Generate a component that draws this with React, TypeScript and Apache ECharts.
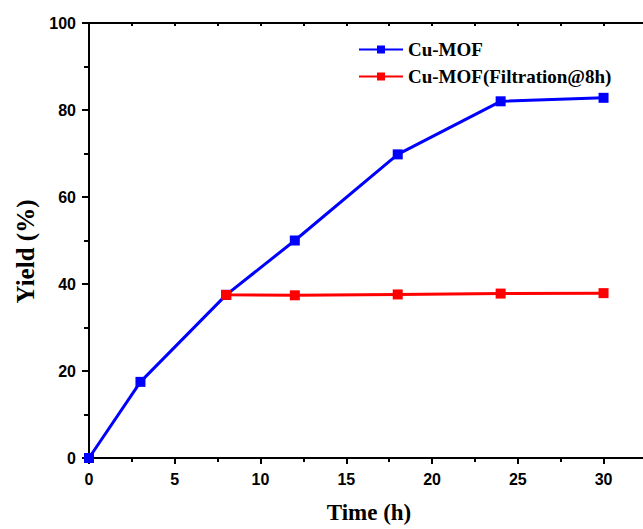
import React, { useEffect, useRef } from "react";
import * as echarts from "echarts";

const timeCu = [0, 3, 8, 12, 18, 24, 30];
const yieldCu = [0, 17.5, 37.5, 50, 69.8, 82, 82.8];
const timeFilt = [8, 12, 18, 24, 30];
const yieldFilt = [37.5, 37.4, 37.6, 37.8, 37.9];
const seriesNames = ["Cu-MOF", "Cu-MOF(Filtration@8h)"];

export default function App() {
  const ref = useRef<HTMLDivElement>(null);
  useEffect(() => {
    document.body.style.margin = "0";
    const chart = echarts.init(ref.current!, null, { renderer: "svg" });
    const serif = "'Liberation Serif', 'Times New Roman', serif";
    const sans = "'Liberation Sans', Arial, sans-serif";
    const axisLine = { show: true, lineStyle: { color: "#000", width: 2 } };
    chart.setOption({
      animation: false,
      backgroundColor: "#fff",
      grid: { left: 89, top: 23, height: 435, width: 566, outerBoundsMode: "none", containLabel: false },
      legend: {
        orient: "vertical",
        left: 353,
        top: 35,
        itemWidth: 44,
        itemHeight: 10,
        itemGap: 8,
        textStyle: { fontFamily: serif, fontWeight: "bold", fontSize: 19, color: "#000" },
        data: seriesNames,
      },
      xAxis: [
        {
          type: "value",
          min: 0,
          max: 33,
          interval: 5,
          axisLine,
          axisTick: { show: true, length: 6, inside: false, lineStyle: { width: 2, color: "#000" } },
          minorTick: { show: true, splitNumber: 2, length: 4, lineStyle: { width: 2, color: "#000" } },
          splitLine: { show: false },
          axisLabel: {
            fontFamily: sans,
            fontWeight: "bold",
            fontSize: 16,
            color: "#000",
            margin: 13,
            formatter: (v: number) => (v % 5 === 0 && v <= 30 ? String(v) : ""),
          },
          name: "Time (h)",
          nameLocation: "middle",
          nameGap: 43,
          nameTextStyle: { fontFamily: serif, fontWeight: "bold", fontSize: 23, color: "#000", padding: [0, 6, 0, 0] },
        },
        {
          type: "value",
          position: "top",
          min: 0,
          max: 33,
          interval: 2.5,
          axisLine,
          axisTick: { show: true, inside: true, length: 3, lineStyle: { width: 2, color: "#000" } },
          splitLine: { show: false },
          axisLabel: { show: false },
        },
      ],
      yAxis: [
        {
          type: "value",
          min: 0,
          max: 100,
          interval: 20,
          axisLine,
          axisTick: { show: true, length: 7, lineStyle: { width: 2, color: "#000" } },
          minorTick: { show: true, splitNumber: 2, length: 5, lineStyle: { width: 2, color: "#000" } },
          splitLine: { show: false },
          axisLabel: { fontFamily: sans, fontWeight: "bold", fontSize: 16, color: "#000", margin: 13 },
          name: "Yield (%)",
          nameLocation: "middle",
          nameGap: 47,
          nameTextStyle: { fontFamily: serif, fontWeight: "bold", fontSize: 25, color: "#000", padding: [0, 22, 0, 0] },
        },
      ],
      series: [
        {
          name: seriesNames[0],
          type: "line",
          data: timeCu.map((t, i) => [t, yieldCu[i]]),
          symbol: "rect",
          symbolSize: 10,
          color: "#0000ff",
          lineStyle: { width: 3, color: "#0000ff" },
          itemStyle: { color: "#0000ff" },
          z: 2,
        },
        {
          name: seriesNames[1],
          type: "line",
          data: timeFilt.map((t, i) => [t, yieldFilt[i]]),
          symbol: "rect",
          symbolSize: 10,
          color: "#ff0000",
          lineStyle: { width: 3, color: "#ff0000" },
          itemStyle: { color: "#ff0000" },
          z: 3,
        },
      ],
    });
    return () => chart.dispose();
  }, []);
  return <div ref={ref} style={{ width: 643, height: 529 }} />;
}
